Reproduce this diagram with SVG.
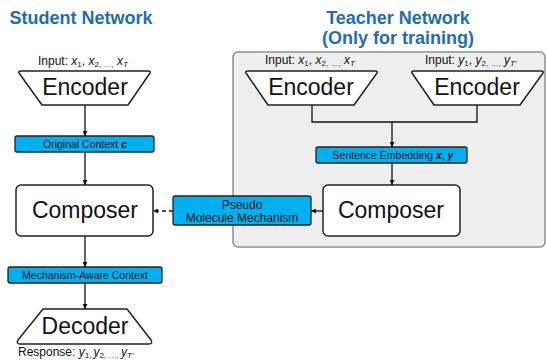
<svg xmlns="http://www.w3.org/2000/svg" width="546" height="360" viewBox="0 0 546 360">
<defs>
<pattern id="tex" width="2" height="2" patternUnits="userSpaceOnUse">
<rect width="2" height="2" fill="#f4f4f4"/>
<rect width="1" height="1" fill="#e9e9e9"/>
<rect x="1" y="1" width="1" height="1" fill="#ececec"/>
</pattern>
<marker id="ah" viewBox="0 0 10 10" refX="10" refY="5" markerWidth="5" markerHeight="5" orient="auto" markerUnits="userSpaceOnUse">
<path d="M0,0 L10,5 L0,10 z" fill="#111"/>
</marker>
</defs>
<style>
text{font-family:"Liberation Sans",Arial,sans-serif;fill:#111}
.title{font-size:18px;font-weight:bold;fill:#1f6db3;text-anchor:middle}
.big{font-size:23px;text-anchor:middle}
.inp{font-size:12px}
.sm{font-size:10.5px;text-anchor:middle}
.mid{font-size:12px;text-anchor:middle}
.shape{fill:#fff;stroke:#222;stroke-width:1.5;stroke-linejoin:round}
.blue{fill:#00b0f0;stroke:#222;stroke-width:1.3}
.con{fill:none;stroke:#111;stroke-width:1.3}
</style>
<rect id="teacher-panel" x="233" y="52" width="312" height="195" rx="5" fill="url(#tex)" stroke="#8f8f8f" stroke-width="1.5"/>
<text class="title" x="81" y="24">Student Network</text>
<text class="title" x="398" y="24">Teacher Network</text>
<text class="title" x="398" y="44">(Only for training)</text>
<g id="student-encoder">
<text class="inp" x="38" y="65">Input: <tspan font-style="italic">x</tspan><tspan font-size="8" dy="2">1</tspan><tspan dy="-2">, </tspan><tspan font-style="italic">x</tspan><tspan font-size="8" dy="2">2, …,</tspan><tspan dy="-2"> </tspan><tspan font-style="italic">x</tspan><tspan font-size="8" font-style="italic" dy="2">T</tspan></text>
<path class="shape" d="M21,71 L148,71 Q151,71 150,73 L128,105 L42,105 L19,73 Q18,71 21,71 z"/>
<text class="big" x="85" y="95">Encoder</text>
</g>
<g id="original-context">
<rect class="blue" x="15" y="136" width="139" height="16" rx="2"/>
<text class="sm" x="85" y="148">Original Context <tspan font-weight="bold" font-style="italic">c</tspan></text>
</g>
<g id="student-composer">
<rect class="shape" x="16" y="185" width="137" height="51" rx="5"/>
<text class="big" x="85" y="218">Composer</text>
</g>
<g id="mech-context">
<rect class="blue" x="8" y="267" width="154" height="16" rx="2"/>
<text class="sm" x="85" y="279">Mechanism-Aware Context</text>
</g>
<g id="decoder">
<path class="shape" d="M43,309 L127,309 L151,340 Q153,344 149,344 L20,344 Q16,344 18,340 z"/>
<text class="big" x="85" y="334">Decoder</text>
<text class="inp" x="18" y="356">Response: <tspan font-style="italic">y</tspan><tspan font-size="8" dy="1.5">1, </tspan><tspan font-style="italic" dy="-1.5">y</tspan><tspan font-size="8" dy="1.5">2, …, </tspan><tspan font-style="italic" dy="-1.5">y</tspan><tspan font-size="8" font-style="italic" dy="1.5">T’</tspan></text>
</g>
<g id="pseudo-mechanism">
<rect class="blue" x="173" y="196" width="138" height="29" rx="2"/>
<text class="mid" x="242" y="209">Pseudo</text>
<text class="mid" x="242" y="222">Molecule Mechanism</text>
</g>
<g id="teacher-encoder-x">
<text class="inp" x="265" y="64">Input: <tspan font-style="italic">x</tspan><tspan font-size="8" dy="2">1</tspan><tspan dy="-2">, </tspan><tspan font-style="italic">x</tspan><tspan font-size="8" dy="2">2, …,</tspan><tspan dy="-2"> </tspan><tspan font-style="italic">x</tspan><tspan font-size="8" font-style="italic" dy="2">T</tspan></text>
<path class="shape" d="M248,71 L375,71 Q378,71 377,73 L354,105 L268,105 L246,73 Q245,71 248,71 z"/>
<text class="big" x="311" y="95">Encoder</text>
</g>
<g id="teacher-encoder-y">
<text class="inp" x="425" y="64">Input: <tspan font-style="italic">y</tspan><tspan font-size="8" dy="2">1</tspan><tspan dy="-2">, </tspan><tspan font-style="italic">y</tspan><tspan font-size="8" dy="2">2, …,</tspan><tspan dy="-2"> </tspan><tspan font-style="italic">y</tspan><tspan font-size="8" font-style="italic" dy="2">T’</tspan></text>
<path class="shape" d="M414,71 L541,71 Q544,71 543,73 L520,105 L434,105 L412,73 Q411,71 414,71 z"/>
<text class="big" x="477" y="95">Encoder</text>
</g>
<g id="sentence-embedding">
<rect class="blue" x="316" y="147" width="151" height="16" rx="2"/>
<text class="sm" x="393" y="159">Sentence Embedding <tspan font-weight="bold" font-style="italic">x</tspan>, <tspan font-weight="bold" font-style="italic">y</tspan></text>
</g>
<g id="teacher-composer">
<rect class="shape" x="323" y="185" width="137" height="51" rx="5"/>
<text class="big" x="391" y="218">Composer</text>
</g>
<g id="connectors">
<line class="con" x1="85" y1="105" x2="85" y2="136" marker-end="url(#ah)"/>
<line class="con" x1="85" y1="152" x2="85" y2="185" marker-end="url(#ah)"/>
<line class="con" x1="85" y1="236" x2="85" y2="267" marker-end="url(#ah)"/>
<line class="con" x1="85" y1="283" x2="85" y2="309" marker-end="url(#ah)"/>
<polyline class="con" points="312,105 312,122 477,122 477,105"/>
<line class="con" x1="392" y1="122" x2="392" y2="147" marker-end="url(#ah)"/>
<line class="con" x1="392" y1="163" x2="392" y2="185" marker-end="url(#ah)"/>
<line class="con" x1="323" y1="211" x2="311" y2="211" marker-end="url(#ah)"/>
<line class="con" x1="173" y1="211" x2="153" y2="211" stroke-dasharray="4,3" marker-end="url(#ah)"/>
</g>
</svg>
